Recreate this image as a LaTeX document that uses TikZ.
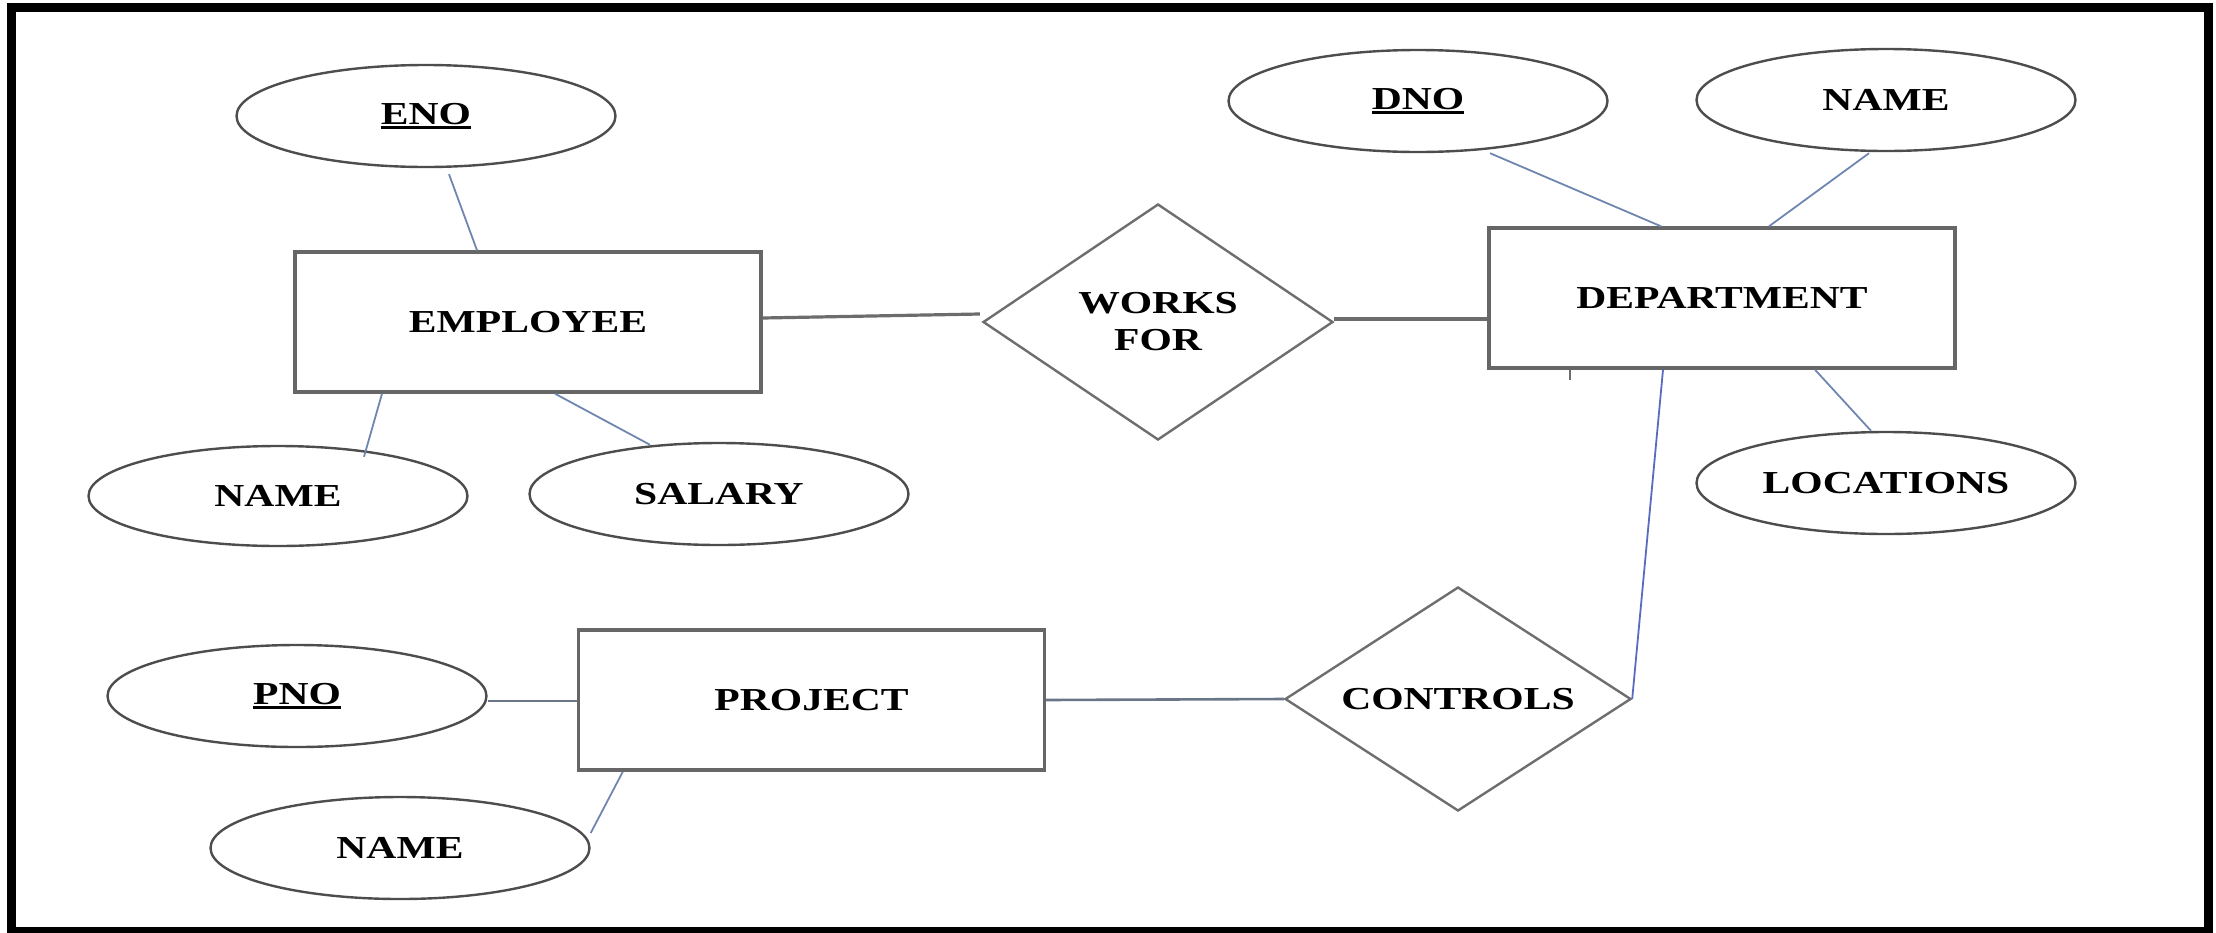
\documentclass[tikz,border=0pt]{standalone}
\usepackage{fontspec}
\setmainfont{Liberation Serif}[FakeStretch=1.3]
\usetikzlibrary{shapes.geometric,calc}

% colours of outlines and connectors
\definecolor{boxgray}{HTML}{666666}
\definecolor{ovalgray}{HTML}{4D4D4D}
\definecolor{diagray}{HTML}{6E6E6E}
\definecolor{linkgray}{HTML}{6C6C6C}
\definecolor{linkblue}{HTML}{6F86B0}
\definecolor{linkslate}{HTML}{6A7587}

% key attribute: text with a rule beneath it
\newcommand{\keyattr}[1]{\setbox0\hbox{#1}\rlap{\rule[-4.5pt]{\wd0}{2.4pt}}\box0}

\tikzset{
  every node/.style={font=\fontsize{32}{37}\selectfont\bfseries, text=black, inner sep=0pt},
  entity/.style={rectangle, draw=boxgray, line width=3.4pt, minimum width=466pt, minimum height=140pt},
  attrib/.style={ellipse, draw=ovalgray, line width=2.4pt, minimum width=379pt, minimum height=102pt},
  relship/.style={diamond, draw=diagray, line width=2.4pt, aspect=1.5, align=center},
  heavylink/.style={draw=linkgray, line width=3.2pt},
  thinlink/.style={draw=linkblue, line width=1.8pt},
  midlink/.style={draw=linkslate, line width=2.6pt},
}

\begin{document}
\begin{tikzpicture}[x=1pt,y=-1pt]
  \useasboundingbox (0,0) rectangle (2216,932);
  % outer frame
  \draw[line width=9pt, black] (11.5,7) rectangle (2208,931);

  % entities
  \node[entity] (emp)  at (528,322)   {EMPLOYEE};
  \node[entity] (dept) at (1722,298)  {DEPARTMENT};
  \node[entity] (proj) at (811.5,700) {PROJECT};

  % relationships
  \node[relship, minimum width=350pt, minimum height=236pt] (works) at (1158,322) {WORKS\\FOR};
  \node[relship, minimum width=346pt, minimum height=224pt] (ctrl) at (1458,699) {CONTROLS};

  % attributes
  \node[attrib] (eno)    at (426,116)  {\keyattr{ENO}};
  \node[attrib, minimum height=100pt] (ename) at (278,496) {NAME};
  \node[attrib] (salary) at (719,494)  {SALARY};
  \node[attrib] (dno)    at (1418,101) {\keyattr{DNO}};
  \node[attrib] (dname)  at (1886,100) {NAME};
  \node[attrib] (loc)    at (1886,483) {LOCATIONS};
  \node[attrib] (pno)    at (297,696)  {\keyattr{PNO}};
  \node[attrib] (pname)  at (400,848)  {NAME};

  % employee side
  \draw[thinlink]  ($(eno.south)+(23,6)$) -- ($(emp.north)+(-51,0)$);
  \draw[heavylink] ($(emp.east)+(0,-4)$) -- ($(works.west)+(-2,-8)$);
  \draw[thinlink]  ($(emp.south)+(-146,0)$) -- ($(ename.north)+(86,12)$);
  \draw[thinlink]  ($(emp.south)+(27,0)$) -- ($(salary.north)+(-69,3)$);

  % department side
  \draw[heavylink] ($(works.east)+(0,-3)$) -- ($(dept.west)+(0,21)$);
  \draw[thinlink]  ($(dno.south)+(72,0)$) -- ($(dept.north)+(-61,0)$);
  \draw[thinlink]  ($(dname.south)+(-17,1)$) -- ($(dept.north)+(47,0)$);
  \draw[thinlink]  ($(dept.south)+(93,0)$) -- ($(loc.north)+(-15,0)$);
  \draw[thinlink, draw=linkblue!80!blue] ($(dept.south)+(-59,0)$) -- (ctrl.east);
  \coordinate (tick) at ($(dept.south west)+(83,0)$);
  \draw[draw=linkgray, line width=2pt] (tick) -- ++(0,10);

  % project side
  \draw[midlink] (proj.east) -- (ctrl.west);
  \draw[midlink] ($(pno.east)+(0,5)$) -- ($(proj.west)+(0,1)$);
  \draw[thinlink] ($(proj.south west)+(46,0)$) -- ($(pname.east)+(0,-15)$);
\end{tikzpicture}
\end{document}
